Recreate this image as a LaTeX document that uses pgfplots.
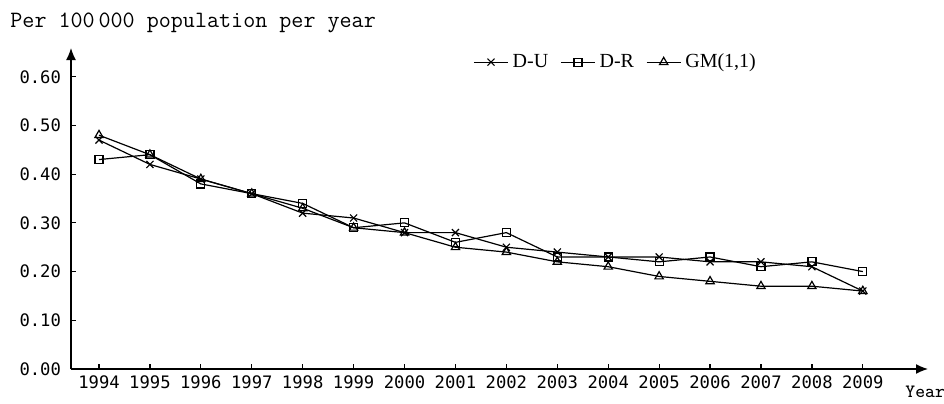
\documentclass[border=0pt]{standalone}
\usepackage{fontspec}
\setmainfont{Liberation Serif}
\newfontfamily\tickfont{DejaVu Sans Mono}
\usepackage{pgfplots}
\pgfplotsset{compat=1.18}
\usetikzlibrary{arrows.meta}

\pgfplotstableread{
year DU DR GM
1994 0.47 0.43 0.48
1995 0.42 0.44 0.44
1996 0.39 0.38 0.39
1997 0.36 0.36 0.36
1998 0.32 0.34 0.33
1999 0.31 0.29 0.29
2000 0.28 0.30 0.28
2001 0.28 0.26 0.25
2002 0.25 0.28 0.24
2003 0.24 0.23 0.22
2004 0.23 0.23 0.21
2005 0.23 0.22 0.19
2006 0.22 0.23 0.18
2007 0.22 0.21 0.17
2008 0.21 0.22 0.17
2009 0.16 0.20 0.16
}\datatable

\begin{document}
\begin{tikzpicture}[x=1pt,y=1pt]
\path[use as bounding box] (0,0) rectangle (472,201.5);
\begin{axis}[
  at={(35.5pt,17pt)}, anchor=south west,
  scale only axis, width=428.5pt, height=160.5pt,
  xmin=1993.45, xmax=2010.28, ymin=0, ymax=0.659,
  axis lines=left,
  axis line style={line width=0.7pt, -{Latex[length=6pt,width=5pt]}},
  xtick={1994,1995,1996,1997,1998,1999,2000,2001,2002,2003,2004,2005,2006,2007,2008,2009},
  ytick={0,0.1,0.2,0.3,0.4,0.5,0.6},
  tick align=inside, major tick length=2.5pt,
  tick style={line width=0.6pt, black},
  /pgf/number format/assume math mode=true,
  xticklabel style={font=\tickfont\fontsize{8.6}{10}\selectfont, /pgf/number format/1000 sep={}},
  yticklabel style={xshift=-1.5pt, font=\tickfont\fontsize{8.6}{10}\selectfont, /pgf/number format/fixed, /pgf/number format/precision=2, /pgf/number format/fixed zerofill},
  legend style={draw=none, fill=none, at={(0.462,0.956)}, anchor=west,
    font=\fontsize{10}{12}\selectfont, legend columns=-1,
    /tikz/every even column/.append style={column sep=4pt}},
  every axis plot/.append style={black, line width=0.6pt, mark options={solid, line width=0.6pt}},
]
\addplot[mark=x, mark size=2.5pt] table[x=year, y=DU] {\datatable};
\addlegendentry{D-U}
\addplot[mark=square, mark size=2pt] table[x=year, y=DR] {\datatable};
\addlegendentry{D-R}
\addplot[mark=triangle, mark size=2.4pt] table[x=year, y=GM] {\datatable};
\addlegendentry{GM(1,1)}
\end{axis}
\node[anchor=west, font=\ttfamily\fontsize{11.7}{13}\selectfont, inner sep=0pt] at (5,190) {Per 100\,000 population per year};
\node[anchor=west, font=\ttfamily\fontsize{9.4}{11}\selectfont, inner sep=0pt] at (452.5,5.5) {Year};
\end{tikzpicture}
\end{document}
